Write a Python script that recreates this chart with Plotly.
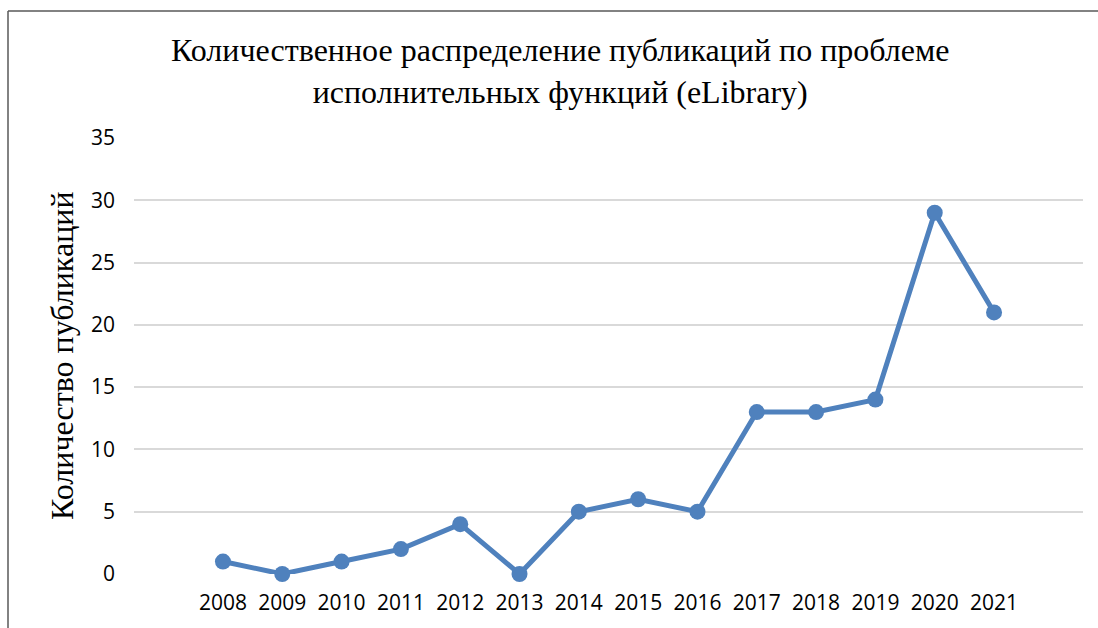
import plotly.graph_objects as go

# Publications per year
years = [2008, 2009, 2010, 2011, 2012, 2013, 2014, 2015, 2016, 2017, 2018, 2019, 2020, 2021]
counts = [1, 0, 1, 2, 4, 0, 5, 6, 5, 13, 13, 14, 29, 21]
y_ticks = [0, 5, 10, 15, 20, 25, 30, 35]

title_text = "Количественное распределение публикаций по проблеме<br>исполнительных функций (eLibrary)"
y_title = "Количество публикаций"

W, H = 1098, 628
# plot-area box in pixels
L, R, T, B = 134, 1083, 138, 574
LINE_BLUE = "#4F81BD"


def px_x(px):
    return (px - L) / (R - L)


def px_y(py):
    return (B - py) / (B - T)


fig = go.Figure()
fig.add_trace(go.Scatter(
    x=years, y=counts, mode="lines+markers",
    line=dict(color=LINE_BLUE, width=5),
    marker=dict(color=LINE_BLUE, size=16),
    cliponaxis=False,
    hoverinfo="x+y", showlegend=False,
))

fig.update_layout(
    width=W, height=H,
    margin=dict(l=L, r=W - R, t=T, b=H - B),
    paper_bgcolor="white", plot_bgcolor="white",
    xaxis=dict(
        range=[years[0] - 1.5, years[-1] + 1.5],
        tickvals=years, ticktext=[str(y) for y in years],
        showgrid=False, zeroline=False, showline=False,
        tickfont=dict(family="Open Sans", size=21, color="#000000"),
        ticklabelstandoff=14,
    ),
    yaxis=dict(
        range=[0, 35], tickvals=y_ticks,
        showgrid=True, gridcolor="#D9D9D9", gridwidth=1.5,
        zeroline=False, showline=False,
        tickfont=dict(family="Open Sans", size=21, color="#000000"),
        ticklabelstandoff=18,
    ),
    annotations=[
        dict(text=title_text, xref="paper", yref="paper",
             x=px_x(560), y=px_y(71), xanchor="center", yanchor="middle",
             showarrow=False, align="center",
             font=dict(family="Liberation Serif", size=32, color="#000000")),
        dict(text=y_title, xref="paper", yref="paper",
             x=px_x(62), y=px_y(356), xanchor="center", yanchor="middle",
             textangle=-90, showarrow=False,
             font=dict(family="Liberation Serif", size=32, color="#000000")),
    ],
    shapes=[
        dict(type="line", xref="paper", yref="paper",
             x0=px_x(8), x1=px_x(W + 5), y0=px_y(11), y1=px_y(11),
             line=dict(color="#595959", width=1.5)),
        dict(type="line", xref="paper", yref="paper",
             x0=px_x(8), x1=px_x(8), y0=px_y(11), y1=px_y(H + 5),
             line=dict(color="#595959", width=1.5)),
    ],
)

fig.write_html("out.html")
